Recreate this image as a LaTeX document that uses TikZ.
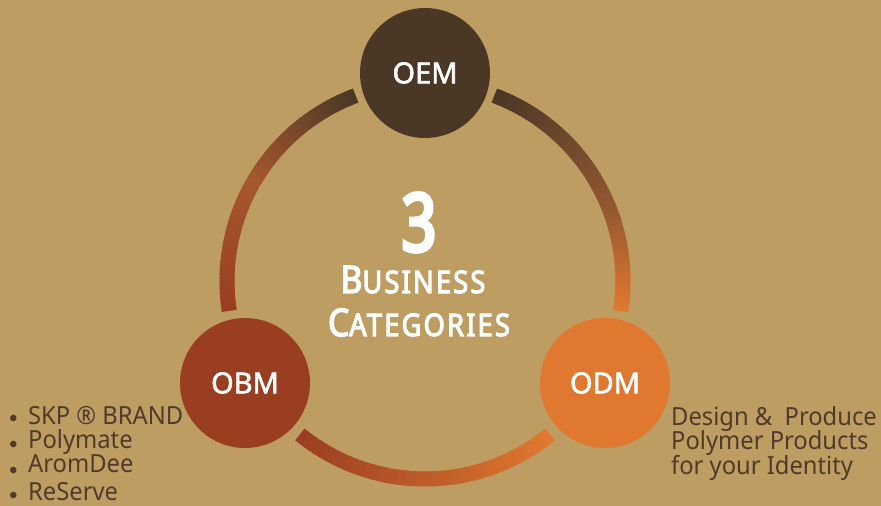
\documentclass[tikz,border=0pt]{standalone}
\usepackage{fontspec}
\setmainfont{Noto Sans}
\newfontfamily\bodyfont{Noto Sans}[FakeStretch=0.95]
\newfontfamily\labelfont{Noto Sans}[FakeBold=2]
\newfontfamily\headfont{Noto Sans}[FakeStretch=0.88,LetterSpace=7,FakeBold=3.5]
\newfontfamily\numfont{Noto Sans}[FakeStretch=0.75,FakeBold=5]
\definecolor{bg}{HTML}{BE9D63}
\definecolor{oemc}{HTML}{4A3726}
\definecolor{obmc}{HTML}{9A3E22}
\definecolor{odmc}{HTML}{E0782F}
\definecolor{midL}{HTML}{A5582E}
\definecolor{midR}{HTML}{8C5530}
\definecolor{ink}{HTML}{4E3B2A}
\newcommand\gradarc[4]{%
  \foreach \i in {0,...,39}{
    \pgfmathsetmacro\aa{#1+(#2-#1)*\i/40}
    \pgfmathsetmacro\bb{#1+(#2-#1)*min(\i+1.5,40)/40}
    \pgfmathtruncatemacro\pp{100-100*\i/39}
    \draw[ringseg, draw=#3!\pp!#4] (\aa:198pt) arc[start angle=\aa, end angle=\bb, radius=198pt];
  }}
\tikzset{
  ringseg/.style={line width=15pt, line cap=butt},
  hub/.style={circle, minimum size=130pt, inner sep=0pt, text=white,
    font=\labelfont\fontsize{29}{29}\selectfont},
  dotmark/.style={circle, fill=ink, minimum size=6.6pt, inner sep=0pt},
  item/.style={anchor=base west, inner sep=0pt, text=ink,
    font=\bodyfont\fontsize{25}{25}\selectfont},
  head/.style={anchor=base, inner sep=0pt, text=white}
}
\begin{document}
\begin{tikzpicture}[x=1pt,y=1pt]
\fill[bg] (0,0) rectangle (881,506);
\useasboundingbox (0,0) rectangle (881,506);
% ring
\begin{scope}[shift={(425pt,225pt)}]
  \gradarc{110.5}{150}{oemc}{midL}
  \gradarc{150}{188.7}{midL}{obmc}
  \gradarc{69.5}{25}{oemc}{midR}
  \gradarc{25}{-8.7}{midR}{odmc}
  \gradarc{230.8}{309.2}{obmc}{odmc}
\end{scope}
% hubs
\node[hub, fill=oemc] (oem) at (425,433) {OEM};
\node[hub, fill=obmc] (obm) at (245,123) {OBM};
\node[hub, fill=odmc] (odm) at (605,123) {ODM};
% centre title
\node[head, font=\numfont\fontsize{80}{80}\selectfont] (three) at (419,255) {3};
\node[head, font=\headfont] (bus) at (413,213)
  {{\fontsize{38}{38}\selectfont B}{\fontsize{31}{31}\selectfont USINESS}};
\node[head, font=\headfont] (cat) at (419,170)
  {{\fontsize{38}{38}\selectfont C}{\fontsize{31}{31}\selectfont ATEGORIES}};
% left list
\node[dotmark] (d1) at (13.3,88) {};
\node[dotmark] (d2) at (13.3,62) {};
\node[dotmark] (d3) at (13.3,36) {};
\node[dotmark] (d4) at (13.3,11) {};
\node[item] (l1) at (28,81) {SKP ® BRAND};
\node[item] (l2) at (28,57.5) {Polymate};
\node[item] (l3) at (28,33) {AromDee};
\node[item] (l4) at (28,5.5) {ReServe};
% right text
\node[item] (r1) at (671,80) {Design \&\ \ Produce};
\node[item] (r2) at (671,56) {Polymer Products};
\node[item] (r3) at (671,31) {for your Identity};
\end{tikzpicture}
\end{document}
